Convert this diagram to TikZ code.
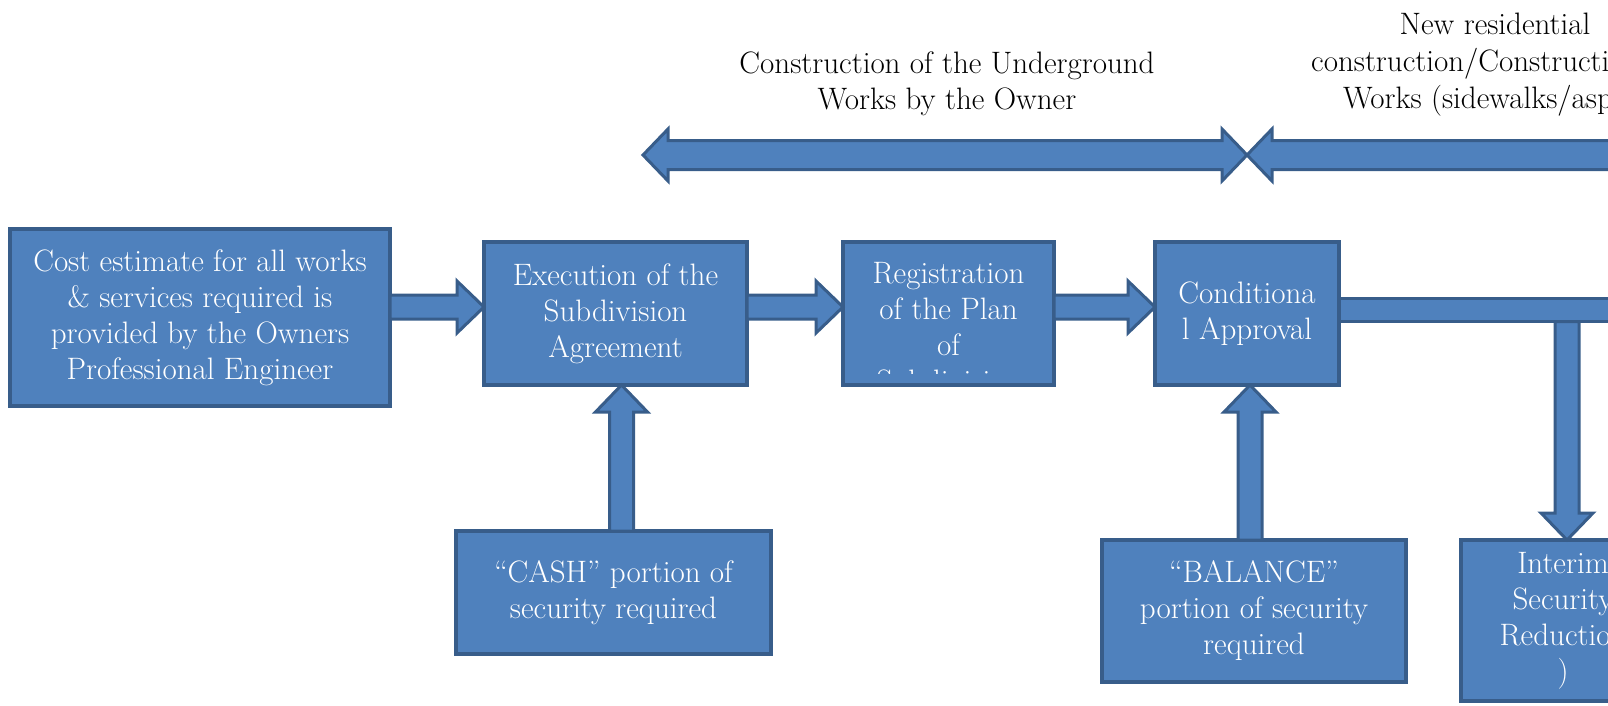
\documentclass[tikz,border=0pt]{standalone}
\usepackage{fontspec}
\usepackage{tikz}
\usepackage{xcolor}
\usetikzlibrary{calc}

\definecolor{boxfill}{HTML}{4F81BD}
\definecolor{boxline}{HTML}{385D8A}

\newcommand{\bigfont}{\fontsize{31}{36}\selectfont}

\tikzset{
  stagebox/.style={draw=boxline, fill=boxfill, line width=4pt, outer sep=0pt,
    inner sep=0pt, text=white, align=center, font=\bigfont},
  arrowbody/.style={draw=boxline, fill=boxfill, line width=3pt, line join=miter},
  phasetext/.style={align=center, font=\bigfont, inner sep=0pt},
}

% block arrow from #2 to #3, #1 = half width of the shaft
\newcommand{\flowarrow}[3][12]{%
  \draw[arrowbody] let \p1=(#2), \p2=(#3),
      \n1={atan2(\y2-\y1,\x2-\x1)}, \n2={veclen(\x2-\x1,\y2-\y1)} in
    [shift={(\p1)}, rotate=\n1]
    (0,-#1) -- (\n2-27,-#1) -- (\n2-27,-26) -- (\n2,0) -- (\n2-27,26)
    -- (\n2-27,#1) -- (0,#1) -- cycle;
}
% same, with a head at both ends
\newcommand{\spanarrow}[3][14.5]{%
  \draw[arrowbody] let \p1=(#2), \p2=(#3),
      \n1={atan2(\y2-\y1,\x2-\x1)}, \n2={veclen(\x2-\x1,\y2-\y1)} in
    [shift={(\p1)}, rotate=\n1]
    (0,0) -- (25,-26) -- (25,-#1) -- (\n2-25,-#1) -- (\n2-25,-26) -- (\n2,0)
    -- (\n2-25,26) -- (\n2-25,#1) -- (25,#1) -- (25,26) -- cycle;
}

\begin{document}
\begin{tikzpicture}[x=1pt, y=-1pt]
    \useasboundingbox (0,0) rectangle (1608,705);
    \clip (0,0) rectangle (1608,705);

    % phases on top
    \node[phasetext] (uwlabel) at (947,84) {Construction of the Underground\\Works by the Owner};
    \node[phasetext] (nrtop) at (1495,24) {New residential};
    \node[phasetext, anchor=west] (nrmid) at (1311,64) {construction/Constructio};
    \node[phasetext, anchor=west] (nrlow) at (1343,101) {Works (sidewalks/asp};

    \coordinate (uwL) at (643,155);
    \coordinate (uwR) at (1247,155);
    \coordinate (nrR) at (1900,155);
    \spanarrow{uwL}{uwR}
    \spanarrow{uwR}{nrR}

    % main row
    \node[stagebox, minimum width=380, minimum height=177] (cost) at (200,317.5)
        {Cost estimate for all works\\\& services required is\\provided by the Owners\\Professional Engineer};
    \node[stagebox, minimum width=263, minimum height=143] (exec) at (615.5,313.5)
        {Execution of the\\Subdivision\\Agreement};
    \node[stagebox, minimum width=211, minimum height=143] (reg) at (948.5,313.5) {};
    \begin{scope}
        \clip (reg.north west) rectangle ([yshift=12pt]reg.south east);
        \node[phasetext, text=white] (regtext) at ([yshift=-14pt]reg.center)
            {Registration\\of the Plan\\of\\Subdivision};
    \end{scope}
    \node[stagebox, minimum width=184, minimum height=143] (cond) at (1247,313.5)
        {Conditiona\\l Approval};

    % securities
    \node[stagebox, minimum width=315, minimum height=123] (cash) at (613.5,592.5)
        {“CASH” portion of\\security required};
    \node[stagebox, minimum width=304, minimum height=142] (balance) at (1254,611)
        {“BALANCE”\\portion of security\\required};
    \node[stagebox, minimum width=204, minimum height=161] (interim) at (1563,620.5)
        {Interim\\Security\\Reduction\\)};

    % connectors
    \foreach \v in {exec,reg,cond}
        \coordinate (\v-in) at ([yshift=6.5pt]\v.west);
    \foreach \u/\v in {cost/exec,exec/reg,reg/cond}
        {\flowarrow{\u.east |- \v-in}{\v-in}}

    \coordinate (exec-up) at ([xshift=6pt]exec.south);
    \coordinate (cond-up) at ([xshift=3pt]cond.south);
    \flowarrow{cash.north -| exec-up}{exec-up}
    \flowarrow{balance.north -| cond-up}{cond-up}

    \coordinate (offright) at (1700,321.5);
    \coordinate (drop) at (1567,321.5);
    \draw[arrowbody] ([yshift=15pt]cond.east) rectangle (offright);
    \flowarrow{drop}{drop |- interim.north}
\end{tikzpicture}
\end{document}
